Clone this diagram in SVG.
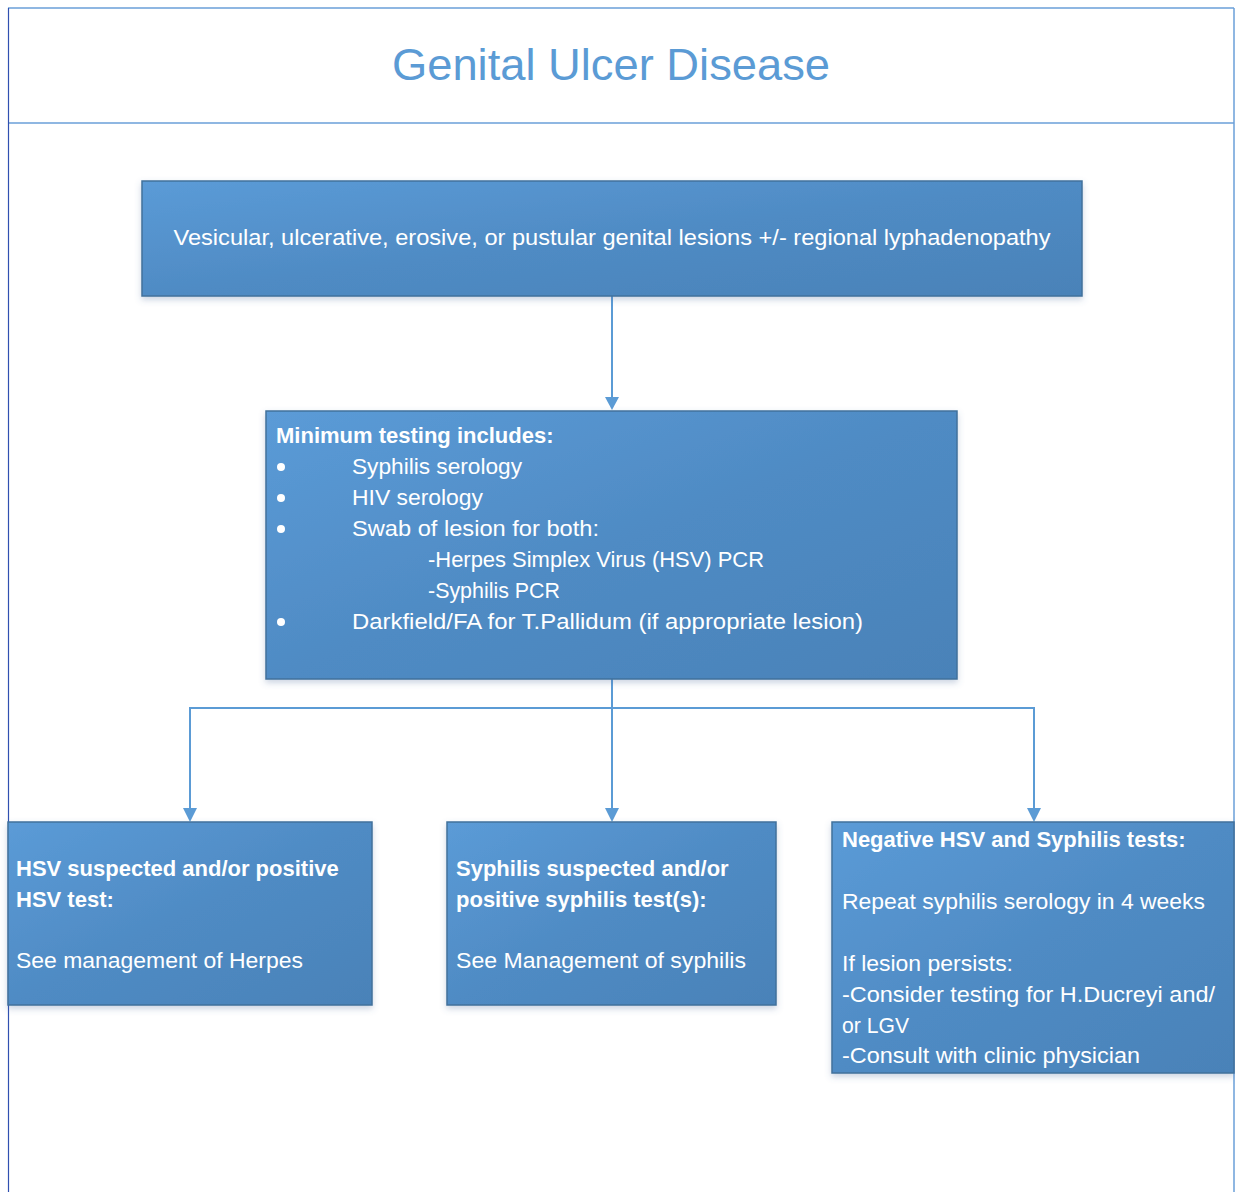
<svg xmlns="http://www.w3.org/2000/svg" width="1235" height="1192" viewBox="0 0 1235 1192">
<style>
.t{font-family:"Liberation Sans",Arial,sans-serif;font-size:22px;fill:#ffffff}
.b{font-weight:bold}
.box{fill:url(#g);stroke:#41719c;stroke-width:1.5;filter:url(#sh)}
.c{fill:none;stroke:#5b9bd5;stroke-width:2}
.ah{fill:#5b9bd5}
</style>
<defs>
<linearGradient id="g" x1="0" y1="0" x2="1" y2="1">
<stop offset="0" stop-color="#5b9bd7"/>
<stop offset="0.5" stop-color="#4f8bc4"/>
<stop offset="1" stop-color="#4a82b8"/>
</linearGradient>
<filter id="sh" x="-5%" y="-5%" width="110%" height="115%">
<feDropShadow dx="0" dy="3" stdDeviation="3" flood-color="#4f6f9c" flood-opacity="0.3"/>
</filter>
</defs>
<rect width="1235" height="1192" fill="#ffffff"/>
<g id="frame">
<line x1="8" y1="8" x2="1234" y2="8" stroke="#6a9fd8" stroke-width="1.5"/>
<line x1="8" y1="123" x2="1234" y2="123" stroke="#6a9fd8" stroke-width="1.5"/>
<line x1="1234" y1="8" x2="1234" y2="1192" stroke="#6a9fd8" stroke-width="1.5"/>
<line x1="8.5" y1="8" x2="8.5" y2="1192" stroke="#3050b0" stroke-width="1.2"/>
<text x="611" y="80" text-anchor="middle" font-family="'Liberation Sans',Arial,sans-serif" font-size="45" fill="#5b9bd5" textLength="438" lengthAdjust="spacingAndGlyphs">Genital Ulcer Disease</text>
</g>
<g id="connectors">
<path class="c" d="M612,296 V398"/>
<path class="ah" d="M605,397 L619,397 L612,410 Z"/>
<path class="c" d="M612,679 V809"/>
<path class="ah" d="M605,808 L619,808 L612,822 Z"/>
<path class="c" d="M190,809 V708 H1034 V809"/>
<path class="ah" d="M183,808 L197,808 L190,822 Z"/>
<path class="ah" d="M1027,808 L1041,808 L1034,822 Z"/>
</g>
<g id="n1">
<rect class="box" x="142" y="181" width="940" height="115"/>
<text class="t" x="612" y="245" text-anchor="middle" textLength="877" lengthAdjust="spacingAndGlyphs">Vesicular, ulcerative, erosive, or pustular genital lesions +/- regional lyphadenopathy</text>
</g>
<g id="n2">
<rect class="box" x="266" y="411" width="691" height="268"/>
<text class="t b" x="276" y="443">Minimum testing includes:</text>
<circle cx="281" cy="467" r="4" fill="#fff"/>
<text class="t" x="352" y="474" textLength="170" lengthAdjust="spacingAndGlyphs">Syphilis serology</text>
<circle cx="281" cy="498" r="4" fill="#fff"/>
<text class="t" x="352" y="505" textLength="131" lengthAdjust="spacingAndGlyphs">HIV serology</text>
<circle cx="281" cy="529" r="4" fill="#fff"/>
<text class="t" x="352" y="536" textLength="247" lengthAdjust="spacingAndGlyphs">Swab of lesion for both:</text>
<text class="t" x="428" y="567" textLength="336" lengthAdjust="spacingAndGlyphs">-Herpes Simplex Virus (HSV) PCR</text>
<text class="t" x="428" y="598" textLength="132" lengthAdjust="spacingAndGlyphs">-Syphilis PCR</text>
<circle cx="281" cy="622" r="4" fill="#fff"/>
<text class="t" x="352" y="629" textLength="511" lengthAdjust="spacingAndGlyphs">Darkfield/FA for T.Pallidum (if appropriate lesion)</text>
</g>
<g id="n3">
<rect class="box" x="8" y="822" width="364" height="183"/>
<text class="t b" x="16" y="876">HSV suspected and/or positive</text>
<text class="t b" x="16" y="907">HSV test:</text>
<text class="t" x="16" y="968" textLength="287" lengthAdjust="spacingAndGlyphs">See management of Herpes</text>
</g>
<g id="n4">
<rect class="box" x="447" y="822" width="329" height="183"/>
<text class="t b" x="456" y="876">Syphilis suspected and/or</text>
<text class="t b" x="456" y="907">positive syphilis test(s):</text>
<text class="t" x="456" y="968" textLength="290" lengthAdjust="spacingAndGlyphs">See Management of syphilis</text>
</g>
<g id="n5">
<rect class="box" x="832" y="822" width="402" height="251"/>
<text class="t b" x="842" y="847">Negative HSV and Syphilis tests:</text>
<text class="t" x="842" y="909" textLength="363" lengthAdjust="spacingAndGlyphs">Repeat syphilis serology in 4 weeks</text>
<text class="t" x="842" y="971" textLength="171" lengthAdjust="spacingAndGlyphs">If lesion persists:</text>
<text class="t" x="842" y="1002" textLength="373" lengthAdjust="spacingAndGlyphs">-Consider testing for H.Ducreyi and/</text>
<text class="t" x="842" y="1033" textLength="67" lengthAdjust="spacingAndGlyphs">or LGV</text>
<text class="t" x="842" y="1063" textLength="298" lengthAdjust="spacingAndGlyphs">-Consult with clinic physician</text>
</g>
</svg>
